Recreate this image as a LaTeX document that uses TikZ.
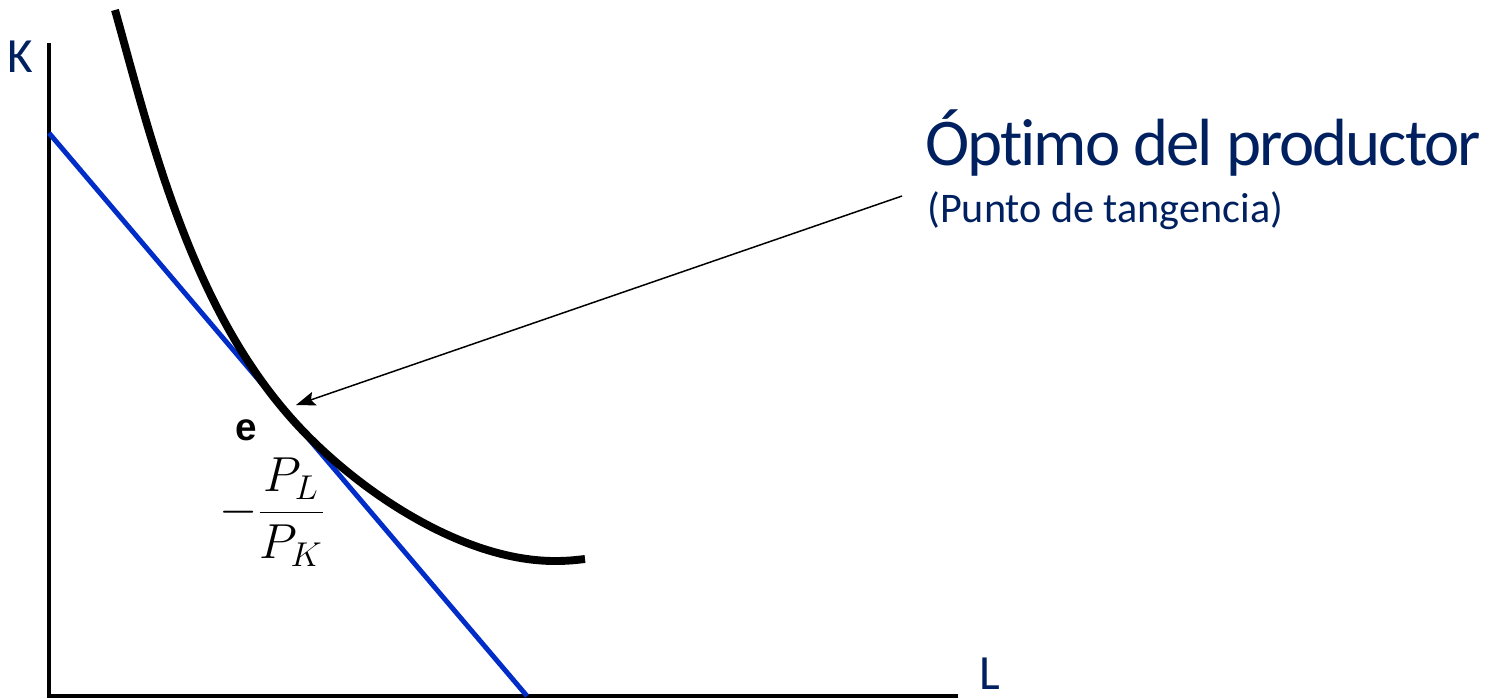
\RequirePackage{fix-cm}
\documentclass[tikz,border=0pt]{standalone}
\usepackage{amsmath}
\usepackage{fontspec}
\newfontfamily\calibri[Ligatures=NoCommon]{Carlito}
\newfontfamily\calibritight[Ligatures=NoCommon, LetterSpace=-3]{Carlito}
\newfontfamily\arial{Liberation Sans}
\usepackage{tikz}
\usetikzlibrary{arrows.meta}
\definecolor{navy}{RGB}{0,32,96}
\definecolor{budget}{RGB}{0,45,200}

\begin{document}
\begin{tikzpicture}[x=0.02cm, y=-0.02cm, ax/.style={line width=2.4pt}, lbl/.style={text=navy, font=\calibri\fontsize{28}{34}\selectfont, inner sep=0pt}]
	\useasboundingbox (0,0) rectangle (1493,698);
	\coordinate (O) at (49,696);
	\coordinate (Ktop) at (49,43);
	\coordinate (Lend) at (958,696);
	\coordinate (Kint) at (49,133);
	\coordinate (Lint) at (527,696);
	\coordinate (e) at (285,411);
	\coordinate (tail) at (902,196);
	\coordinate (tip) at (296,405);
	\draw[ax] (Ktop) -- (O) -- (Lend);
	\draw[budget, line width=2.8pt] (Kint) -- (Lint);
	\draw[line width=4.5pt] (115,10) .. controls (150,135) and (188,297) .. (e)
		.. controls (343,480) and (455,561) .. (555,561)
		.. controls (568,561) and (576,560) .. (585,559);
	\draw[line width=0.85pt, -{Stealth[length=11pt, width=8pt, inset=2pt]}] (tail) -- (tip);
	\node[lbl] (K) at (20,57) {K};
	\node[lbl] (L) at (990,674) {L};
	\node[lbl, font=\calibritight\fontsize{38}{46}\selectfont, anchor=base west] (title) at (925,165) {Óptimo del productor};
	\node[lbl, font=\calibri\fontsize{24}{29}\selectfont, anchor=base west] (sub) at (927,222) {(Punto de tangencia)};
	\node[font=\arial\bfseries\fontsize{22}{26}\selectfont, inner sep=0pt] (elbl) at (246,430) {e};
	\node[font=\fontsize{28}{34}\selectfont, inner sep=0pt] (slope) at (272,512) {$\displaystyle -\frac{P_L}{P_K}$};
\end{tikzpicture}
\end{document}
